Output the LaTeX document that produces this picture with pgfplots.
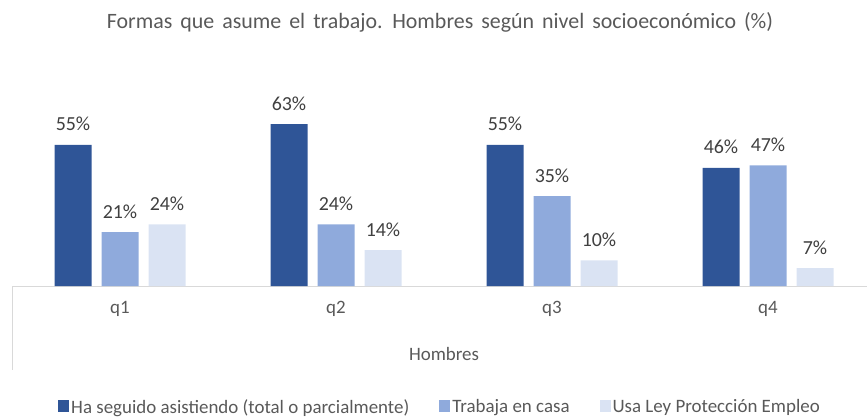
\documentclass[border=0pt]{standalone}
\usepackage{pgfplots}
\pgfplotsset{compat=1.18}
\usepackage{fontspec}
\setmainfont{Carlito}
\definecolor{c1}{HTML}{2F5597}
\definecolor{c2}{HTML}{8FAADC}
\definecolor{c3}{HTML}{DAE3F3}
\definecolor{txt}{HTML}{595959}
\definecolor{lbl}{HTML}{404040}
\definecolor{axl}{HTML}{D9D9D9}
\begin{document}
\begin{tikzpicture}[x=1bp,y=1bp]
\path[use as bounding box, clip] (0,0) rectangle (867,417);
\node[anchor=base, font=\fontsize{22}{24}\selectfont, text=txt, inner sep=0] at (440,388) {\spaceskip=8bp Formas que asume el trabajo. Hombres según nivel socioeconómico (\%)};
\begin{axis}[
  at={(12bp,131bp)}, anchor=south west, scale only axis,
  width=864bp, height=226bp,
  xmin=-0.5, xmax=3.5, ymin=0, ymax=88,
  ybar=10bp, bar width=37bp,
  axis y line=none, axis x line*=bottom,
  x axis line style={draw=axl, line width=1bp},
  xtick={0,1,2,3}, xticklabels={q1,q2,q3,q4}, major tick length=0pt,
  xticklabel style={font=\fontsize{19}{21}\selectfont, text=txt, anchor=base, yshift=-27bp},
  xlabel={Hombres},
  xlabel style={font=\fontsize{19}{21}\selectfont, text=txt, at={(axis description cs:0.5,0)}, anchor=base, yshift=-74bp},
  /pgf/number format/assume math mode=true,
  nodes near coords={\pgfmathprintnumber{\pgfplotspointmeta}\%},
  every node near coord/.append style={font=\fontsize{20}{22}\selectfont, text=lbl, anchor=base, yshift=14bp, inner sep=0pt},
  legend style={at={(axis description cs:0.5,0)}, anchor=center, yshift=-121bp, xshift=-4bp, draw=none, fill=none,
    font=\fontsize{19}{21}\selectfont, text=txt, legend columns=3,
    /tikz/every even column/.append style={column sep=28bp}},
]
\addplot[fill=c1, draw=none, legend image code/.code={\fill[c1] (0bp,-5bp) rectangle (11bp,7bp);}] coordinates {(0,55) (1,63) (2,55) (3,46)};
\addplot[fill=c2, draw=none, legend image code/.code={\fill[c2] (0bp,-5bp) rectangle (11bp,7bp);}] coordinates {(0,21) (1,24) (2,35) (3,47)};
\addplot[fill=c3, draw=none, legend image code/.code={\fill[c3] (0bp,-5bp) rectangle (11bp,7bp);}] coordinates {(0,24) (1,14) (2,10) (3,7)};
\legend{Ha seguido asistiendo (total o parcialmente), Trabaja en casa, Usa Ley Protección Empleo}
\end{axis}
\draw[axl, line width=1bp] (12,131) -- (12,47);
\end{tikzpicture}
\end{document}
